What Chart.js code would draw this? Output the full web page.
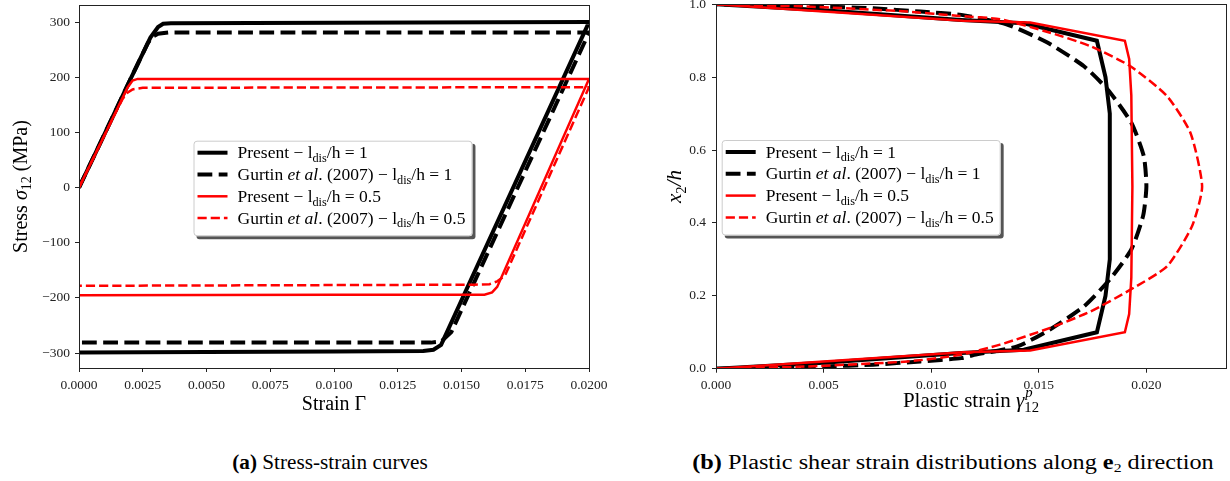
<!DOCTYPE html>
<html>
<head>
<meta charset="utf-8">
<script src="https://cdn.jsdelivr.net/npm/chart.js@4/dist/chart.umd.min.js"></script>
<style>
  body { margin:0; background:#fff; width:1230px; height:481px; position:relative; overflow:hidden; font-family:"Liberation Serif", serif; }
  #wa { position:absolute; left:0; top:-10px; width:615px; height:440px; }
  #wb { position:absolute; left:615px; top:-10px; width:615px; height:440px; }
  .cap { position:absolute; top:451px; font-size:20px; color:#000; white-space:nowrap; transform:translateX(-50%); }
  .cap sub { font-size:13px; vertical-align:-3px; line-height:0; }
</style>
</head>
<body>
<div id="wa"><canvas id="ca"></canvas></div>
<div id="wb"><canvas id="cb"></canvas></div>
<div class="cap" id="capA" style="left:330px"><b>(a)</b> Stress-strain curves</div>
<div class="cap" id="capB" style="left:953px"><b>(b)</b> Plastic shear strain distributions along <b>e</b><sub>2</sub> direction</div>

<script>
// ---- (a) stress-strain loops: strain Gamma / stress sigma12 (MPa)
const ssPres1X = [0, 0.0010, 0.0020, 0.0028, 0.0031, 0.0033, 0.0036, 0.0100, 0.0200, 0.0142, 0.0139, 0.0135, 0.0100, 0];
const ssPres1Y = [0, 97, 195, 272, 291, 297, 298, 299, 300, -285, -294, -296, -297, -299];
const ssGurt1X = [0, 0.0010, 0.0020, 0.0027, 0.0029, 0.0031, 0.0035, 0.0200, 0.0146, 0.0142, 0.0138, 0];
const ssGurt1Y = [0, 97, 195, 262, 274, 279, 281, 281, -262, -279, -281, -281];
const ssPres05X = [0, 0.0010, 0.0019, 0.0021, 0.0023, 0.0100, 0.0200, 0.0164, 0.0162, 0.0159, 0.0100, 0];
const ssPres05Y = [0, 95, 181, 194, 197, 197, 197, -180, -190, -194, -194, -195];
const ssGurt05X = [0, 0.0010, 0.0017, 0.0019, 0.0021, 0.0025, 0.0200, 0.0167, 0.0164, 0.0161, 0.0155, 0];
const ssGurt05Y = [0, 95, 160, 172, 178, 181, 182, -160, -170, -175, -176, -178];
const ssXTicks = [0, 0.0025, 0.005, 0.0075, 0.01, 0.0125, 0.015, 0.0175, 0.02];
const ssYTicks = [-300, -200, -100, 0, 100, 200, 300];

// ---- (b) plastic strain gamma12^p / position x2/h
const psPres1X = [0, 0.0050, 0.0114, 0.0143, 0.0177, 0.0181, 0.0183, 0.0183, 0.0181, 0.0177, 0.0143, 0.0114, 0.0050, 0];
const psPres1Y = [0, 0.016, 0.043, 0.052, 0.10, 0.20, 0.30, 0.70, 0.80, 0.90, 0.948, 0.957, 0.984, 1.0];
const psGurt1X = [0, 0.0027, 0.0050, 0.0073, 0.0095, 0.0114, 0.0120, 0.0140, 0.0155, 0.0171, 0.0183, 0.0193, 0.01985, 0.0200, 0.01988, 0.0193, 0.0182, 0.0171, 0.0154, 0.0135, 0.0114, 0.0095, 0.0073, 0.0050, 0.0027, 0];
const psGurt1Y = [0, 0.002, 0.006, 0.011, 0.020, 0.029, 0.038, 0.061, 0.107, 0.171, 0.245, 0.327, 0.42, 0.50, 0.583, 0.675, 0.766, 0.83, 0.895, 0.945, 0.971, 0.980, 0.989, 0.994, 0.998, 1.0];
const psPres05X = [0, 0.0050, 0.0115, 0.0146, 0.0190, 0.0192, 0.0193, 0.01935, 0.0193, 0.0192, 0.0190, 0.0146, 0.0115, 0.0050, 0];
const psPres05Y = [0, 0.02, 0.045, 0.05, 0.10, 0.15, 0.25, 0.50, 0.75, 0.85, 0.90, 0.95, 0.955, 0.98, 1.0];
const psGurt05X = [0, 0.0042, 0.0089, 0.01135, 0.0132, 0.01553, 0.0174, 0.01926, 0.02096, 0.02212, 0.02259, 0.02205, 0.02096, 0.01926, 0.0174, 0.01553, 0.0132, 0.0113, 0.0089, 0.0042, 0];
const psGurt05Y = [0, 0.006, 0.020, 0.038, 0.066, 0.112, 0.157, 0.217, 0.281, 0.391, 0.50, 0.647, 0.748, 0.83, 0.885, 0.922, 0.959, 0.968, 0.98, 0.994, 1.0];
const psXTicks = [0, 0.005, 0.01, 0.015, 0.02];
const psYTicks = [0, 0.2, 0.4, 0.6, 0.8, 1.0];

// legend labels (n = normal, i = italic, sub = subscript)
const legendLabels = [
  [['n', 'Present − l'], ['sub', 'dis'], ['n', '/h = 1']],
  [['n', 'Gurtin '], ['i', 'et al'], ['n', '. (2007) − l'], ['sub', 'dis'], ['n', '/h = 1']],
  [['n', 'Present − l'], ['sub', 'dis'], ['n', '/h = 0.5']],
  [['n', 'Gurtin '], ['i', 'et al'], ['n', '. (2007) − l'], ['sub', 'dis'], ['n', '/h = 0.5']]
];

const FONT = '"Liberation Serif", "DejaVu Serif", serif';

function segFont(type, size) {
  const small = type === 'sub' || type === 'sup' || type === 'ss' || type === 'isup';
  const s = small ? size * 0.7 : size;
  return ((type === 'i' || type === 'isup') ? 'italic ' : '') + s + 'px ' + FONT;
}
function richWidth(ctx, segs, size) {
  let w = 0;
  for (const [t, a, b] of segs) {
    ctx.font = segFont(t, size);
    w += t === 'ss' ? Math.max(ctx.measureText(a).width, ctx.measureText(b).width) : ctx.measureText(a).width;
  }
  return w;
}
function drawRich(ctx, segs, x, y, size, center) {
  if (center) x -= richWidth(ctx, segs, size) / 2;
  ctx.textAlign = 'left';
  ctx.textBaseline = 'alphabetic';
  ctx.fillStyle = '#000';
  for (const [t, a, b] of segs) {
    ctx.font = segFont(t, size);
    if (t === 'ss') {
      // italic superscript over an upright subscript
      ctx.font = segFont('isup', size);
      const wa = ctx.measureText(a).width;
      ctx.fillText(a, x + 1, y - size * 0.45);
      ctx.font = segFont('sub', size);
      const wb = ctx.measureText(b).width;
      ctx.fillText(b, x, y + size * 0.25);
      x += Math.max(wa, wb);
    } else {
      const dy = t === 'sub' ? size * 0.22 : t === 'sup' ? -size * 0.42 : 0;
      ctx.fillText(a, x, y + dy);
      x += ctx.measureText(a).width;
    }
  }
}

function series(label, xs, ys, color, width, dash, tension, order) {
  return {
    label, order,
    data: xs.map((x, i) => ({ x, y: ys[i] })),
    showLine: true, borderColor: color, backgroundColor: color,
    borderWidth: width, borderDash: dash, tension,
    pointRadius: 0, pointHoverRadius: 0, fill: false
  };
}

// frame, axis titles and legend box
const decor = {
  id: 'decor',
  afterDraw(chart, args, o) {
    const ctx = chart.ctx, a = chart.chartArea;
    ctx.save();
    ctx.strokeStyle = '#222';
    ctx.lineWidth = 1;
    ctx.strokeRect(Math.round(a.left) + 0.5, Math.round(a.top) + 0.5, Math.round(a.right - a.left), Math.round(a.bottom - a.top));

    drawRich(ctx, o.xTitle, (a.left + a.right) / 2, a.bottom + o.xTitleDy, o.titleSize, true);
    ctx.save();
    ctx.translate(a.left + o.yTitleDx, (a.top + a.bottom) / 2);
    ctx.rotate(-Math.PI / 2);
    drawRich(ctx, o.yTitle, 0, 7, o.titleSize, true);
    ctx.restore();

    // legend
    const size = 17.5;
    let tw = 0;
    legendLabels.forEach(l => { tw = Math.max(tw, richWidth(ctx, l, size)); });
    const bx = a.left + o.lx, by = a.top + o.ly, bw = 44 + tw + 7, bh = 95.5;
    ctx.fillStyle = '#555';
    roundRect(ctx, bx + 3, by + 3, bw, bh, 3); ctx.fill();
    ctx.fillStyle = '#fff';
    roundRect(ctx, bx, by, bw, bh, 3); ctx.fill();
    ctx.strokeStyle = '#ccc';
    roundRect(ctx, bx + 0.5, by + 0.5, bw - 1, bh - 1, 3); ctx.stroke();
    const dss = chart.data.datasets;
    for (let i = 0; i < 4; i++) {
      const ds = dss[i], yy = by + 12 + i * 21.8;
      ctx.strokeStyle = ds.borderColor;
      ctx.lineWidth = ds.borderWidth;
      ctx.setLineDash(ds.borderDash || []);
      ctx.beginPath(); ctx.moveTo(bx + 4, yy); ctx.lineTo(bx + 34, yy); ctx.stroke();
      ctx.setLineDash([]);
      drawRich(ctx, legendLabels[i], bx + 44, yy + 5.5, size, false);
    }
    ctx.restore();
  }
};
function roundRect(ctx, x, y, w, h, r) {
  ctx.beginPath();
  ctx.moveTo(x + r, y); ctx.lineTo(x + w - r, y); ctx.quadraticCurveTo(x + w, y, x + w, y + r);
  ctx.lineTo(x + w, y + h - r); ctx.quadraticCurveTo(x + w, y + h, x + w - r, y + h);
  ctx.lineTo(x + r, y + h); ctx.quadraticCurveTo(x, y + h, x, y + h - r);
  ctx.lineTo(x, y + r); ctx.quadraticCurveTo(x, y, x + r, y);
  ctx.closePath();
}

function axis(min, max, ticks, fmt, fit, pad) {
  return {
    type: 'linear', min, max,
    afterBuildTicks(s) { s.ticks = ticks.map(v => ({ value: v })); },
    afterFit(s) { if (s.isHorizontal()) s.height = fit; else s.width = fit; },
    ticks: { callback: v => fmt(v), font: { family: FONT, size: 13.5 }, color: '#222', padding: pad, maxRotation: 0, autoSkip: false },
    grid: { display: true, drawOnChartArea: false, tickLength: 4, tickColor: '#222', tickWidth: 1 },
    border: { display: false }
  };
}
const minus = s => s.replace('-', '−');

Chart.defaults.animation = false;
Chart.defaults.responsive = true;
Chart.defaults.maintainAspectRatio = false;

new Chart(document.getElementById('ca'), {
  type: 'scatter',
  data: { datasets: [
    series('Present l/h=1', ssPres1X, ssPres1Y, '#000', 4, [], 0, 4),
    series('Gurtin 1', ssGurt1X, ssGurt1Y, '#000', 4, [14.8, 6.4], 0, 3),
    series('Present l/h=0.5', ssPres05X, ssPres05Y, '#ff0000', 2.5, [], 0, 2),
    series('Gurtin 0.5', ssGurt05X, ssGurt05Y, '#ff0000', 2.5, [9.2, 4], 0, 1)
  ]},
  options: {
    layout: { padding: { left: 0, right: 26, top: 15, bottom: 0 } },
    plugins: {
      legend: { display: false }, tooltip: { enabled: false },
      decor: {
        titleSize: 20,
        xTitle: [['n', 'Strain Γ']], xTitleDy: 42,
        yTitle: [['n', 'Stress '], ['i', 'σ'], ['sub', '12'], ['n', ' (MPa)']], yTitleDx: -59,
        lx: 114.5, ly: 135.7
      }
    },
    scales: {
      x: axis(0, 0.02, ssXTicks, v => v.toFixed(4), 62, 5),
      y: axis(-327, 331, ssYTicks, v => minus(String(v)), 79, 5)
    }
  },
  plugins: [decor]
});

new Chart(document.getElementById('cb'), {
  type: 'scatter',
  data: { datasets: [
    series('Present l/h=1', psPres1X, psPres1Y, '#000', 4, [], 0, 4),
    series('Gurtin 1', psGurt1X, psGurt1Y, '#000', 4, [14.8, 6.4], 0.2, 3),
    series('Present l/h=0.5', psPres05X, psPres05Y, '#ff0000', 2.5, [], 0, 2),
    series('Gurtin 0.5', psGurt05X, psGurt05Y, '#ff0000', 2.5, [9.2, 4], 0.2, 1)
  ]},
  options: {
    layout: { padding: { left: 0, right: 4, top: 14.3, bottom: 0 } },
    plugins: {
      legend: { display: false }, tooltip: { enabled: false },
      decor: {
        titleSize: 21,
        xTitle: [['n', 'Plastic strain '], ['i', 'γ'], ['ss', 'p', '12']], xTitleDy: 38,
        yTitle: [['i', 'x'], ['sub', '2'], ['i', '/h']], yTitleDx: -42,
        lx: 5.7, ly: 135.7
      }
    },
    scales: {
      x: axis(0, 0.0237, psXTicks, v => v.toFixed(3), 61.3, 5),
      y: axis(0, 1, psYTicks, v => v.toFixed(1), 101, 6)
    }
  },
  plugins: [decor]
});

// stretch captions to the widths they have in the figure
[['capA', 195], ['capB', 521]].forEach(([id, w]) => {
  const el = document.getElementById(id);
  el.style.transform = 'translateX(-50%) scaleX(' + (w / el.offsetWidth) + ')';
});
</script>
</body>
</html>
